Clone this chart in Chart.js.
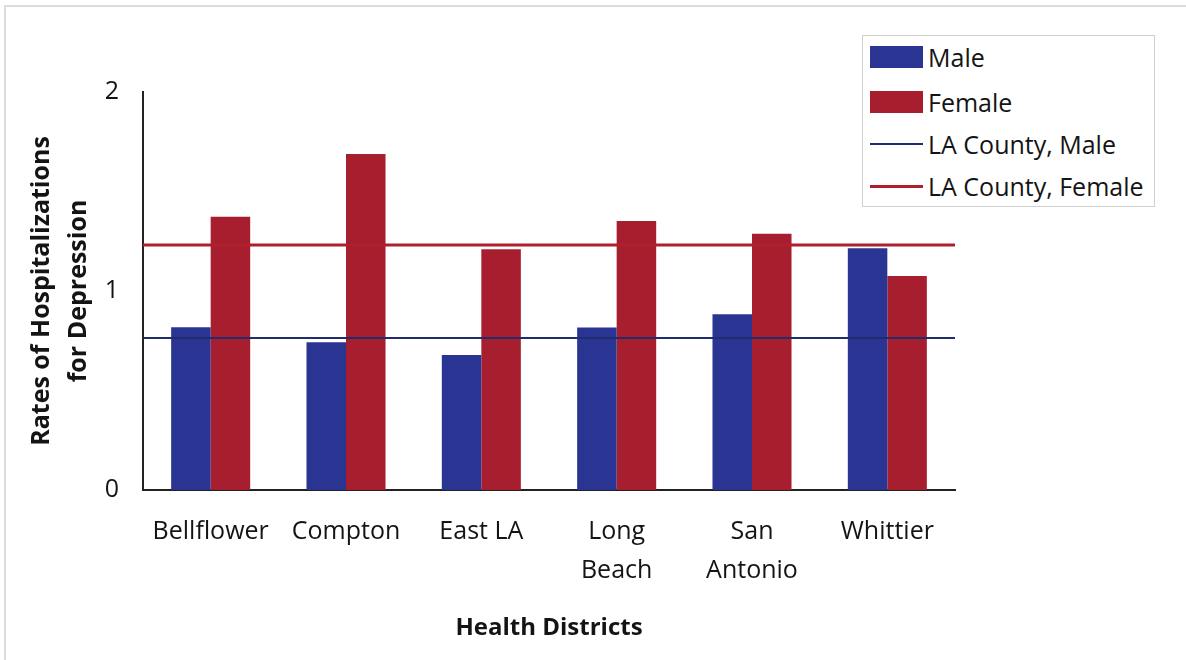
<!DOCTYPE html>
<html>
<head>
<meta charset="utf-8">
<script src="https://cdn.jsdelivr.net/npm/chart.js@4/dist/chart.umd.min.js"></script>
<style>
  html, body { margin:0; padding:0; background:#fff; }
  #wrap { position:relative; width:1186px; height:660px; }
  #frame { position:absolute; left:4px; top:5px; right:0; bottom:0;
           border-left:2px solid #dcdcd6; border-top:2px solid #dcdcd6; pointer-events:none; }
  #legend { position:absolute; left:862px; top:35px; width:293px; height:172px;
            border:1px solid #cfcfcf; background:#fff; box-sizing:border-box;
            font-family:"Open Sans", Lato, sans-serif; font-size:25px; color:#141414; }
  .item { position:absolute; left:7px; height:30px; display:flex; align-items:center; white-space:nowrap; }
  .sw { width:53px; margin-right:5px; }
</style>
</head>
<body>
<div id="wrap">
  <canvas id="chart" width="1186" height="660"></canvas>
  <div id="frame"></div>
  <div id="legend"></div>
</div>
<script>
// ===== Data =====
const districts = ["Bellflower", "Compton", "East LA", ["Long", "Beach"], ["San", "Antonio"], "Whittier"];
const maleRates = [0.818, 0.742, 0.678, 0.816, 0.883, 1.215];
const femaleRates = [1.373, 1.688, 1.21, 1.352, 1.288, 1.075];
const countyLabels = ["LA County, Male", "LA County, Female"];
const countyRates = [0.764, 1.231];
const yTicks = [0, 1, 2];

const BLUE = "#2a3593";
const RED = "#a71f2e";
const lineColors = ["#1f2d6e", "#b01f2c"];
const lineWidths = [2, 3];
const FONT = "'Open Sans', Lato, sans-serif";
const INK = "#141414";

// county averages: flat lines across the whole plot area, on top of the bars
const countyLines = {
  id:'countyLines',
  afterDatasetsDraw(chart){
    const {ctx, chartArea, scales} = chart;
    ctx.save();
    countyRates.forEach((v, i)=>{
      const y = scales.y.getPixelForValue(v);
      ctx.strokeStyle = lineColors[i];
      ctx.lineWidth = lineWidths[i];
      ctx.beginPath();
      ctx.moveTo(chartArea.left, y);
      ctx.lineTo(chartArea.right, y);
      ctx.stroke();
    });
    ctx.restore();
  }
};

const ctx = document.getElementById("chart").getContext("2d");
const chart = new Chart(ctx, {
  type:'bar',
  data:{
    labels:districts,
    datasets:[
      {label:'Male', data:maleRates, backgroundColor:BLUE, categoryPercentage:0.584, barPercentage:1},
      {label:'Female', data:femaleRates, backgroundColor:RED, categoryPercentage:0.584, barPercentage:1}
    ]
  },
  options:{
    responsive:false,
    animation:false,
    layout:{padding:{left:0, right:231, top:92, bottom:0}},
    plugins:{legend:{display:false}, tooltip:{enabled:false}},
    scales:{
      x:{
        grid:{display:false, drawTicks:false},
        border:{display:true, color:'#222', width:2},
        ticks:{color:INK, padding:22, font:{family:FONT, size:25, lineHeight:'39px'}, maxRotation:0, autoSkip:false},
        title:{display:true, text:'Health Districts', color:INK, padding:{top:0, bottom:17},
               font:{family:FONT, size:24, weight:'bold'}},
        afterFit:s=>{ s.height = 170; }
      },
      y:{
        min:0, max:2,
        afterBuildTicks:s=>{ s.ticks = yTicks.map(v=>({value:v})); },
        grid:{display:false, drawTicks:false},
        border:{display:true, color:'#222', width:2},
        ticks:{color:INK, padding:24, font:{family:FONT, size:25}},
        title:{display:true, text:['Rates of Hospitalizations', 'for Depression'], color:INK,
               padding:{top:23, bottom:0}, font:{family:FONT, size:25, weight:'bold', lineHeight:'37px'}},
        afterFit:s=>{ s.width = 143; }
      }
    }
  },
  plugins:[countyLines]
});

// ===== Legend =====
const legend = document.getElementById("legend");
const rowY = [6, 51, 93, 135];
function addRow(i, label, swatch){
  const row = document.createElement("div");
  row.className = "item";
  row.style.top = rowY[i] + "px";
  const sw = document.createElement("span");
  sw.className = "sw";
  Object.assign(sw.style, swatch);
  const txt = document.createElement("span");
  txt.textContent = label;
  row.appendChild(sw);
  row.appendChild(txt);
  legend.appendChild(row);
}
chart.data.datasets.forEach((ds, i)=>{
  addRow(i, ds.label, {height:"22px", background:ds.backgroundColor});
});
countyLabels.forEach((label, i)=>{
  addRow(i + 2, label, {height:lineWidths[i] + "px", background:lineColors[i]});
});
</script>
</body>
</html>
